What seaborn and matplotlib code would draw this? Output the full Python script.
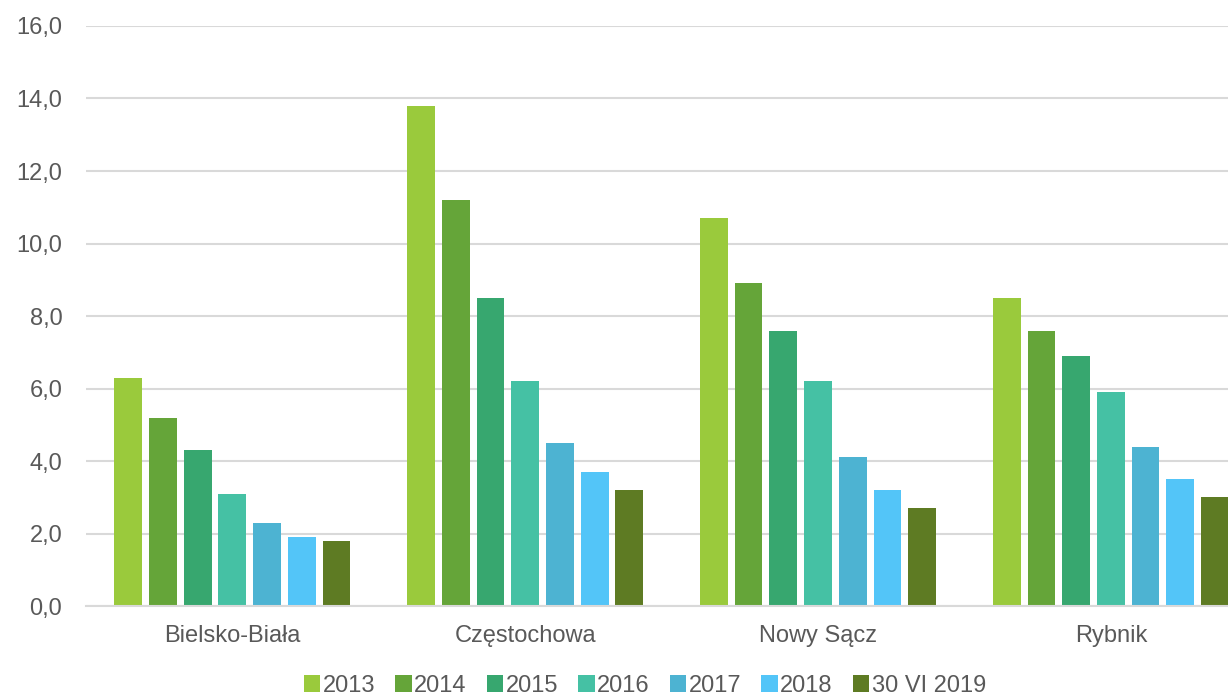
import pandas as pd
import matplotlib.pyplot as plt
import seaborn as sns

# --- DATA ---
cities = ["Bielsko-Biała", "Częstochowa", "Nowy Sącz", "Rybnik"]
years = ["2013", "2014", "2015", "2016", "2017", "2018", "30 VI 2019"]
v2013 = [6.3, 13.8, 10.7, 8.5]
v2014 = [5.2, 11.2, 8.9, 7.6]
v2015 = [4.3, 8.5, 7.6, 6.9]
v2016 = [3.1, 6.2, 6.2, 5.9]
v2017 = [2.3, 4.5, 4.1, 4.4]
v2018 = [1.9, 3.7, 3.2, 3.5]
v2019 = [1.8, 3.2, 2.7, 3.0]
colors = ["#9ACA3C", "#65A539", "#37A76F", "#45C1A4", "#4DB3D2", "#53C5F8", "#5E7B23"]

rows = []
for year, vals in zip(years, [v2013, v2014, v2015, v2016, v2017, v2018, v2019]):
    for city, v in zip(cities, vals):
        rows.append({"city": city, "year": year, "value": v})
df = pd.DataFrame(rows)

sns.set_style("white")
plt.rcParams['font.family'] = ['Liberation Sans', 'DejaVu Sans']

fig = plt.figure(figsize=(12.28, 6.95), dpi=100)
ax = fig.add_axes([0.070, 0.128, 0.93, 0.8346])

sns.barplot(data=df, x="city", y="value", hue="year", order=cities, hue_order=years,
            palette=colors, width=0.83, gap=0.2, linewidth=0, saturation=1, ax=ax)

ax.set_ylim(0, 16)
ax.set_xlim(-0.5, 3.4)
ax.set_yticks(range(0, 17, 2))
ax.set_yticklabels([f"{t:.1f}".replace(".", ",") for t in range(0, 17, 2)])
ax.yaxis.grid(True, color="#D9D9D9", linewidth=1.5)
ax.set_axisbelow(True)
for s in ["top", "right", "left"]:
    ax.spines[s].set_visible(False)
ax.spines["bottom"].set_color("#D9D9D9")
ax.spines["bottom"].set_linewidth(1.5)
ax.tick_params(axis="both", length=0, labelsize=17, labelcolor="#595959")
ax.tick_params(axis="y", pad=17)
ax.tick_params(axis="x", pad=14)
ax.set_xlabel("")
ax.set_ylabel("")

handles, labels = ax.get_legend_handles_labels()
ax.get_legend().remove()
fig.legend(handles, labels, loc="center", bbox_to_anchor=(0.525, 0.013), ncol=7,
           frameon=False, fontsize=17, labelcolor="#595959",
           handlelength=0.7, handleheight=0.7, handletextpad=0.1, columnspacing=0.85)

fig.savefig("out.png", dpi=100)
